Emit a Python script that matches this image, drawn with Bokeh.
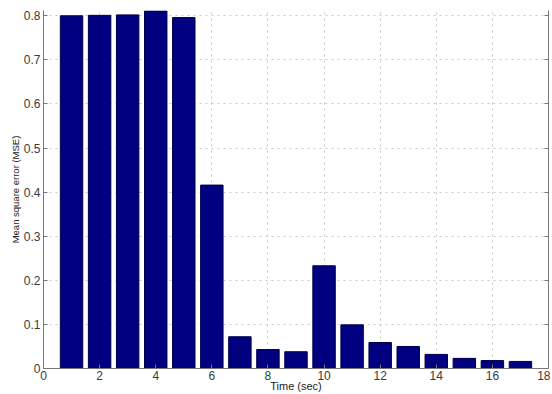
from bokeh.plotting import figure
from bokeh.models import LinearAxis, FixedTicker, Range1d, CustomJSTickFormatter
from bokeh.embed import file_html
from bokeh.resources import INLINE

time_sec = [1, 2, 3, 4, 5, 6, 7, 8, 9, 10, 11, 12, 13, 14, 15, 16, 17]
mse = [0.800, 0.801, 0.802, 0.811, 0.796, 0.416, 0.072, 0.043, 0.038,
       0.233, 0.099, 0.059, 0.050, 0.032, 0.023, 0.018, 0.016]
x_ticks = [0, 2, 4, 6, 8, 10, 12, 14, 16, 18]
y_ticks = [0, 0.1, 0.2, 0.3, 0.4, 0.5, 0.6, 0.7, 0.8]
y_tick_labels = ["0", "0.1", "0.2", "0.3", "0.4", "0.5", "0.6", "0.7", "0.8"]

p = figure(width=550, height=394, output_backend="svg", toolbar_location=None,
           x_range=Range1d(0, 18), y_range=Range1d(0, 0.812),
           min_border_left=43, min_border_right=2, min_border_top=10, min_border_bottom=24)
p.outline_line_color = None
p.background_fill_color = "white"

p.vbar(x=time_sec, top=mse, width=0.8, fill_color="#000080", line_color="#00004a", line_width=1)

font = "Liberation Sans"
text_col = "#3a3a3a"

for ax in (p.xaxis[0], p.yaxis[0]):
    ax.major_tick_in = 4
    ax.major_tick_out = 0
    ax.minor_tick_in = 0
    ax.minor_tick_out = 0
    ax.axis_line_color = "#777777"
    ax.major_tick_line_color = "#777777"
    ax.major_label_text_font = font
    ax.major_label_text_font_size = "12px"
    ax.major_label_text_color = text_col
    ax.axis_label_text_font = font
    ax.axis_label_text_font_style = "normal"
    ax.axis_label_text_color = "#222222"
    ax.major_label_standoff = 3
    ax.axis_label_standoff = 0

p.xaxis[0].major_label_standoff = 2
p.xaxis[0].axis_label_standoff = -3
p.xaxis[0].axis_label_text_font_size = "11px"
p.yaxis[0].axis_label_text_font_size = "9.5px"
p.xaxis[0].ticker = FixedTicker(ticks=x_ticks)
p.yaxis[0].ticker = FixedTicker(ticks=y_ticks)
p.yaxis[0].major_label_overrides = {t: l for t, l in zip(y_ticks, y_tick_labels)}
p.xaxis[0].axis_label = "Time (sec)"
p.yaxis[0].axis_label = "Mean square error (MSE)"

right = LinearAxis(ticker=FixedTicker(ticks=y_ticks),
                   formatter=CustomJSTickFormatter(code="return ''"),
                   major_tick_in=4, major_tick_out=0, minor_tick_in=0, minor_tick_out=0,
                   axis_line_color="#777777", major_tick_line_color="#777777",
                   major_label_standoff=0)
p.add_layout(right, "right")

p.xgrid.ticker = FixedTicker(ticks=x_ticks)
p.ygrid.ticker = FixedTicker(ticks=y_ticks)
p.grid.grid_line_color = "#c8c8c8"
p.grid.grid_line_dash = "dotted"

open("out.html", "w").write(file_html(p, INLINE))
